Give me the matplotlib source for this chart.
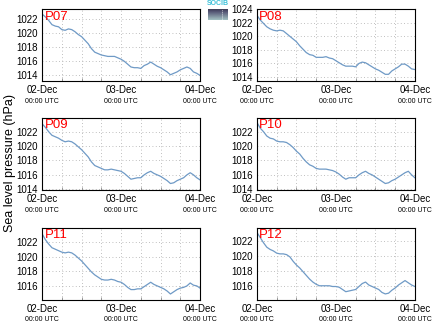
import numpy as np
import matplotlib
matplotlib.use('Agg')
from matplotlib import pyplot as plt
from matplotlib.ticker import MultipleLocator

plt.rcParams['font.family'] = ['Liberation Sans', 'DejaVu Sans']

# hours since 02-Dec 00:00 UTC
hours = list(range(49))

p07 = [1022.7, 1022.3, 1021.8, 1021.2, 1021.0, 1020.9, 1020.5, 1020.4, 1020.6, 1020.5,
       1020.2, 1019.8, 1019.5, 1019.0, 1018.5, 1017.8, 1017.3, 1017.1, 1016.9, 1016.8,
       1016.7, 1016.7, 1016.7, 1016.5, 1016.3, 1016.0, 1015.6, 1015.2, 1015.1, 1015.1,
       1015.0, 1015.4, 1015.6, 1015.9, 1015.6, 1015.3, 1015.1, 1014.8, 1014.5, 1014.1,
       1014.3, 1014.5, 1014.8, 1015.0, 1015.2, 1015.0, 1014.5, 1014.3, 1014.0]
p08 = [1023.1, 1022.4, 1021.9, 1021.4, 1021.1, 1020.9, 1020.8, 1020.9, 1020.8, 1020.4,
       1020.0, 1019.6, 1019.2, 1018.6, 1018.1, 1017.6, 1017.3, 1017.2, 1016.9, 1016.9,
       1016.9, 1017.0, 1016.8, 1016.7, 1016.4, 1016.1, 1015.8, 1015.6, 1015.6, 1015.6,
       1015.5, 1016.0, 1016.2, 1016.1, 1015.8, 1015.5, 1015.2, 1015.0, 1014.7, 1014.4,
       1014.4, 1014.9, 1015.2, 1015.5, 1015.9, 1015.9, 1015.6, 1015.2, 1015.1]
p09 = [1023.1, 1022.6, 1022.0, 1021.5, 1021.3, 1021.1, 1020.8, 1020.6, 1020.7, 1020.6,
       1020.3, 1019.9, 1019.5, 1019.0, 1018.5, 1017.8, 1017.3, 1017.1, 1016.9, 1016.7,
       1016.7, 1016.8, 1016.7, 1016.6, 1016.5, 1016.2, 1015.8, 1015.4, 1015.5, 1015.6,
       1015.6, 1016.0, 1016.3, 1016.5, 1016.2, 1016.0, 1015.8, 1015.5, 1015.2, 1014.8,
       1014.9, 1015.2, 1015.4, 1015.6, 1016.0, 1016.3, 1016.0, 1015.6, 1015.3]
p10 = [1023.3, 1022.5, 1022.0, 1021.4, 1021.1, 1021.0, 1020.7, 1020.6, 1020.6, 1020.5,
       1020.2, 1019.8, 1019.3, 1018.9, 1018.3, 1017.8, 1017.4, 1017.2, 1016.9, 1016.8,
       1016.8, 1016.8, 1016.7, 1016.6, 1016.4, 1016.1, 1015.7, 1015.4, 1015.6, 1015.6,
       1015.6, 1016.0, 1016.3, 1016.5, 1016.2, 1016.0, 1015.7, 1015.4, 1015.1, 1014.8,
       1014.9, 1015.2, 1015.4, 1015.7, 1016.0, 1016.3, 1016.5, 1016.0, 1015.6]
p11 = [1023.1, 1022.3, 1021.7, 1021.2, 1021.0, 1020.8, 1020.6, 1020.5, 1020.6, 1020.5,
       1020.2, 1019.8, 1019.4, 1018.9, 1018.4, 1017.9, 1017.5, 1017.2, 1016.9, 1016.8,
       1016.8, 1016.9, 1016.8, 1016.6, 1016.5, 1016.2, 1015.8, 1015.5, 1015.5, 1015.6,
       1015.6, 1015.9, 1016.2, 1016.5, 1016.2, 1016.0, 1015.8, 1015.6, 1015.3, 1014.9,
       1015.2, 1015.5, 1015.7, 1015.8, 1016.0, 1016.4, 1016.1, 1016.0, 1015.7]
p12 = [1023.2, 1022.5, 1021.8, 1021.2, 1020.9, 1020.7, 1020.4, 1020.3, 1020.3, 1020.2,
       1019.9, 1019.3, 1018.8, 1018.4, 1017.9, 1017.4, 1016.9, 1016.5, 1016.2, 1016.0,
       1016.0, 1016.0, 1016.0, 1015.9, 1015.9, 1015.8, 1015.5, 1015.2, 1015.3, 1015.4,
       1015.5, 1015.9, 1016.3, 1016.5, 1016.1, 1015.9, 1015.7, 1015.5, 1015.1, 1014.9,
       1015.0, 1015.4, 1015.7, 1016.1, 1016.4, 1016.7, 1016.4, 1016.1, 1015.9]

stations = ['P07', 'P08', 'P09', 'P10', 'P11', 'P12']
series = [p07, p08, p09, p10, p11, p12]
ylims = [(1013.2, 1023.4), (1013.4, 1024.0), (1013.9, 1023.9),
         (1013.9, 1023.9), (1014.1, 1023.9), (1014.1, 1023.8)]

date_ticks = [0, 24, 48]
date_labels = ['02-Dec', '03-Dec', '04-Dec']

fig = plt.figure(figsize=(4.34, 3.27), dpi=100)

lefts = [0.097, 0.592]
bottoms = [0.752, 0.419, 0.083]

for i, (name, vals, yl) in enumerate(zip(stations, series, ylims)):
    ax = fig.add_axes([lefts[i % 2], bottoms[i // 2], 0.364, 0.220])
    ax.plot(hours, vals, color='#6f9ac6', lw=0.9)
    ax.set_xlim(0, 48)
    ax.set_ylim(*yl)
    ax.set_yticks([v for v in range(1014, 1025, 2) if yl[0] <= v <= yl[1]])
    ax.set_xticks(date_ticks)
    ax.set_xticklabels(date_labels)
    ax.xaxis.set_minor_locator(MultipleLocator(6))
    ax.tick_params(axis='both', labelsize=7, length=0, pad=3)
    ax.tick_params(axis='x', which='minor', direction='in', length=2, color='#888888')
    ax.grid(True, which='both', color='#aaaaaa', linestyle=(0, (1, 3)), lw=0.6)
    for sp in ax.spines.values():
        sp.set_linewidth(0.8)
    for t in date_ticks:
        ax.text(t, -0.23, '00:00 UTC', transform=ax.get_xaxis_transform(),
                ha='center', va='top', fontsize=5)
    ax.text(0.015, 0.98, name, transform=ax.transAxes, color='red',
            fontsize=9.5, ha='left', va='top')

fig.text(0.022, 0.5, 'Sea level pressure (hPa)', rotation=90,
         ha='center', va='center', fontsize=9)

# small logo at the top
logo = fig.add_axes([0.479, 0.939, 0.046, 0.033])
grad = np.linspace(0, 1, 50).reshape(-1, 1)
logo.imshow(grad, aspect='auto', cmap='bone', vmin=-0.6, vmax=1.6, extent=[0, 1, 0, 1])
logo.plot([0.7, 0.7], [0.1, 0.9], color='white', lw=0.6, linestyle=(0, (1, 1.5)))
logo.set_xlim(0, 1)
logo.set_ylim(0, 1)
logo.axis('off')
fig.text(0.502, 0.978, 'SOCIB', color='#3cc0d8', fontsize=5, ha='center', va='bottom',
         fontweight='bold')

fig.savefig('out.png', dpi=100)
